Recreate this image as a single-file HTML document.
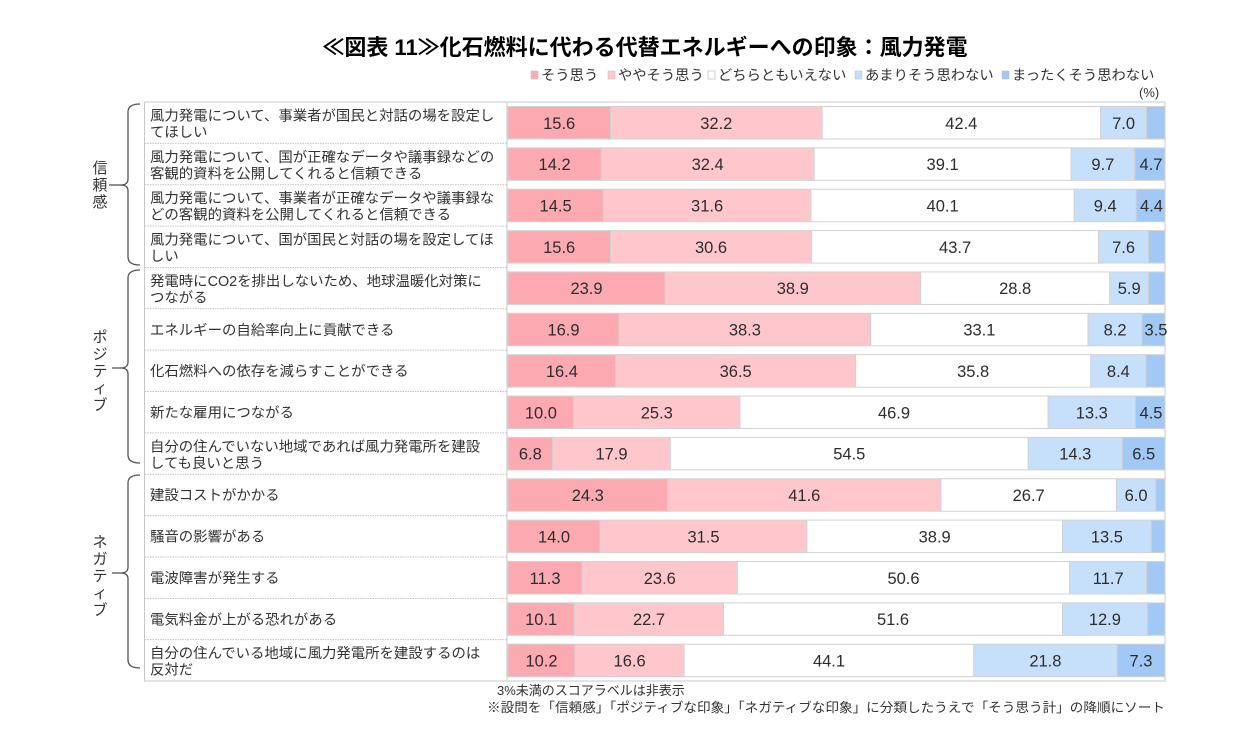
<!DOCTYPE html>
<html><head><meta charset="utf-8">
<style>
html,body{margin:0;padding:0;background:#fff;}
svg{display:block;}
text{font-family:"Liberation Sans","Noto Sans CJK JP",sans-serif;}
</style></head>
<body>
<svg width="1257" height="741" viewBox="0 0 1257 741" xmlns="http://www.w3.org/2000/svg">
<!-- Title -->
<text x="645" y="55" text-anchor="middle" font-size="22" font-weight="bold" fill="#000">≪図表 11≫化石燃料に代わる代替エネルギーへの印象：風力発電</text>

<!-- Legend -->
<g font-size="14.3" fill="#333">
<rect x="531" y="71" width="7" height="8" fill="#fca9b1" stroke="#bbb" stroke-width="0.5"/>
<text x="541" y="80">そう思う</text>
<rect x="608" y="71" width="7" height="8" fill="#ffc7cc" stroke="#bbb" stroke-width="0.5"/>
<text x="618" y="80">ややそう思う</text>
<rect x="708" y="71" width="7" height="8" fill="#fff" stroke="#bbb" stroke-width="0.7"/>
<text x="718" y="80">どちらともいえない</text>
<rect x="855" y="71" width="7" height="8" fill="#c6e0fc" stroke="#bbb" stroke-width="0.5"/>
<text x="865" y="80">あまりそう思わない</text>
<rect x="1002" y="71" width="7" height="8" fill="#a2c8f6" stroke="#bbb" stroke-width="0.5"/>
<text x="1012" y="80">まったくそう思わない</text>
</g>
<text x="1139" y="97" font-size="13" fill="#333">(%)</text>

<!-- Frame -->
<rect x="144.5" y="102" width="1020.5" height="579" fill="none" stroke="#c8c8c8" stroke-width="1"/>
<line x1="507" y1="102" x2="507" y2="681" stroke="#c8c8c8" stroke-width="1"/>
<g stroke="#c4c4c4" stroke-width="1" stroke-dasharray="1.5,1">
<line x1="145" y1="143.36" x2="507" y2="143.36"/>
<line x1="145" y1="184.72" x2="507" y2="184.72"/>
<line x1="145" y1="226.08" x2="507" y2="226.08"/>
<line x1="145" y1="267.44" x2="507" y2="267.44"/>
<line x1="145" y1="308.8" x2="507" y2="308.8"/>
<line x1="145" y1="350.16" x2="507" y2="350.16"/>
<line x1="145" y1="391.52" x2="507" y2="391.52"/>
<line x1="145" y1="432.88" x2="507" y2="432.88"/>
<line x1="145" y1="474.24" x2="507" y2="474.24"/>
<line x1="145" y1="515.6" x2="507" y2="515.6"/>
<line x1="145" y1="556.96" x2="507" y2="556.96"/>
<line x1="145" y1="598.32" x2="507" y2="598.32"/>
<line x1="145" y1="639.68" x2="507" y2="639.68"/>
</g>

<!-- Group labels -->
<g font-size="15" fill="#333" text-anchor="middle">
<text x="100" y="173">信</text>
<text x="100" y="190">頼</text>
<text x="100" y="207">感</text>
<text x="100" y="342">ポ</text>
<text x="100" y="359">ジ</text>
<text x="100" y="376">テ</text>
<text x="100" y="393">ィ</text>
<text x="100" y="410">ブ</text>
<text x="100" y="547">ネ</text>
<text x="100" y="564">ガ</text>
<text x="100" y="581">テ</text>
<text x="100" y="598">ィ</text>
<text x="100" y="615">ブ</text>
</g>
<!-- Braces -->
<g fill="none" stroke="#555" stroke-width="1.3">
<path d="M140,104 Q128,104 128,112 L128,179 Q128,185 121,185 Q128,185 128,191 L128,257 Q128,265 140,265"/>
<line x1="109" y1="185" x2="121" y2="185"/>
<path d="M140,270 Q128,270 128,278 L128,362 Q128,368 121,368 Q128,368 128,374 L128,455 Q128,463 140,463"/>
<line x1="112" y1="368" x2="121" y2="368"/>
<path d="M140,475 Q128,475 128,483 L128,567 Q128,573 121,573 Q128,573 128,579 L128,660 Q128,668 140,668"/>
<line x1="112" y1="573" x2="121" y2="573"/>
</g>

<!-- Row labels -->
<g font-size="14.4" fill="#333">
<text x="150" y="120.5">風力発電について、事業者が国民と対話の場を設定し</text>
<text x="150" y="137">てほしい</text>
<text x="150" y="161.9">風力発電について、国が正確なデータや議事録などの</text>
<text x="150" y="178.4">客観的資料を公開してくれると信頼できる</text>
<text x="150" y="203.2">風力発電について、事業者が正確なデータや議事録な</text>
<text x="150" y="219.7">どの客観的資料を公開してくれると信頼できる</text>
<text x="150" y="244.6">風力発電について、国が国民と対話の場を設定してほ</text>
<text x="150" y="261.1">しい</text>
<text x="150" y="285.9">発電時にCO2を排出しないため、地球温暖化対策に</text>
<text x="150" y="302.4">つながる</text>
<text x="150" y="334.8">エネルギーの自給率向上に貢献できる</text>
<text x="150" y="376.2">化石燃料への依存を減らすことができる</text>
<text x="150" y="417.5">新たな雇用につながる</text>
<text x="150" y="451.4">自分の住んでいない地域であれば風力発電所を建設</text>
<text x="150" y="467.9">しても良いと思う</text>
<text x="150" y="500.2">建設コストがかかる</text>
<text x="150" y="541.6">騒音の影響がある</text>
<text x="150" y="583">電波障害が発生する</text>
<text x="150" y="624.3">電気料金が上がる恐れがある</text>
<text x="150" y="658.2">自分の住んでいる地域に風力発電所を建設するのは</text>
<text x="150" y="674.7">反対だ</text>
</g>

<!-- Bars -->
<g stroke="#d2d2d2" stroke-width="1">
<g transform="translate(0,102)">
<rect x="508" y="4.5" width="102.5" height="32.5" fill="#fca9b1"/>
<rect x="610.5" y="4.5" width="211.6" height="32.5" fill="#ffc7cc"/>
<rect x="822.1" y="4.5" width="278.5" height="32.5" fill="#fff"/>
<rect x="1100.6" y="4.5" width="46" height="32.5" fill="#c6e0fc"/>
<rect x="1146.6" y="4.5" width="18.4" height="32.5" fill="#a2c8f6"/>
</g>
<g transform="translate(0,143.36)">
<rect x="508" y="4.5" width="93.3" height="32.5" fill="#fca9b1"/>
<rect x="601.3" y="4.5" width="212.9" height="32.5" fill="#ffc7cc"/>
<rect x="814.2" y="4.5" width="256.8" height="32.5" fill="#fff"/>
<rect x="1071" y="4.5" width="63.8" height="32.5" fill="#c6e0fc"/>
<rect x="1134.8" y="4.5" width="30.2" height="32.5" fill="#a2c8f6"/>
</g>
<g transform="translate(0,184.72)">
<rect x="508" y="4.5" width="95.3" height="32.5" fill="#fca9b1"/>
<rect x="603.3" y="4.5" width="207.6" height="32.5" fill="#ffc7cc"/>
<rect x="810.9" y="4.5" width="263.4" height="32.5" fill="#fff"/>
<rect x="1074.3" y="4.5" width="61.8" height="32.5" fill="#c6e0fc"/>
<rect x="1136.1" y="4.5" width="28.9" height="32.5" fill="#a2c8f6"/>
</g>
<g transform="translate(0,226.08)">
<rect x="508" y="4.5" width="102.5" height="32.5" fill="#fca9b1"/>
<rect x="610.5" y="4.5" width="201" height="32.5" fill="#ffc7cc"/>
<rect x="811.5" y="4.5" width="287.1" height="32.5" fill="#fff"/>
<rect x="1098.6" y="4.5" width="50" height="32.5" fill="#c6e0fc"/>
<rect x="1148.6" y="4.5" width="16.4" height="32.5" fill="#a2c8f6"/>
</g>
<g transform="translate(0,267.44)">
<rect x="508" y="4.5" width="157" height="32.5" fill="#fca9b1"/>
<rect x="665" y="4.5" width="255.6" height="32.5" fill="#ffc7cc"/>
<rect x="920.6" y="4.5" width="189.2" height="32.5" fill="#fff"/>
<rect x="1109.8" y="4.5" width="38.8" height="32.5" fill="#c6e0fc"/>
<rect x="1148.6" y="4.5" width="16.4" height="32.5" fill="#a2c8f6"/>
</g>
<g transform="translate(0,308.8)">
<rect x="508" y="4.5" width="111" height="32.5" fill="#fca9b1"/>
<rect x="619" y="4.5" width="251.7" height="32.5" fill="#ffc7cc"/>
<rect x="870.7" y="4.5" width="217.4" height="32.5" fill="#fff"/>
<rect x="1088.1" y="4.5" width="53.9" height="32.5" fill="#c6e0fc"/>
<rect x="1142" y="4.5" width="23" height="32.5" fill="#a2c8f6"/>
</g>
<g transform="translate(0,350.16)">
<rect x="508" y="4.5" width="107.7" height="32.5" fill="#fca9b1"/>
<rect x="615.7" y="4.5" width="239.9" height="32.5" fill="#ffc7cc"/>
<rect x="855.6" y="4.5" width="235.2" height="32.5" fill="#fff"/>
<rect x="1090.8" y="4.5" width="55.2" height="32.5" fill="#c6e0fc"/>
<rect x="1146" y="4.5" width="19" height="32.5" fill="#a2c8f6"/>
</g>
<g transform="translate(0,391.52)">
<rect x="508" y="4.5" width="65.7" height="32.5" fill="#fca9b1"/>
<rect x="573.7" y="4.5" width="166.2" height="32.5" fill="#ffc7cc"/>
<rect x="739.9" y="4.5" width="308.2" height="32.5" fill="#fff"/>
<rect x="1048.1" y="4.5" width="87.3" height="32.5" fill="#c6e0fc"/>
<rect x="1135.4" y="4.5" width="29.6" height="32.5" fill="#a2c8f6"/>
</g>
<g transform="translate(0,432.88)">
<rect x="508" y="4.5" width="44.7" height="32.5" fill="#fca9b1"/>
<rect x="552.7" y="4.5" width="117.6" height="32.5" fill="#ffc7cc"/>
<rect x="670.3" y="4.5" width="358" height="32.5" fill="#fff"/>
<rect x="1028.3" y="4.5" width="94" height="32.5" fill="#c6e0fc"/>
<rect x="1122.3" y="4.5" width="42.7" height="32.5" fill="#a2c8f6"/>
</g>
<g transform="translate(0,474.24)">
<rect x="508" y="4.5" width="159.7" height="32.5" fill="#fca9b1"/>
<rect x="667.7" y="4.5" width="273.3" height="32.5" fill="#ffc7cc"/>
<rect x="941" y="4.5" width="175.4" height="32.5" fill="#fff"/>
<rect x="1116.4" y="4.5" width="39.4" height="32.5" fill="#c6e0fc"/>
<rect x="1155.8" y="4.5" width="9.2" height="32.5" fill="#a2c8f6"/>
</g>
<g transform="translate(0,515.6)">
<rect x="508" y="4.5" width="92" height="32.5" fill="#fca9b1"/>
<rect x="600" y="4.5" width="206.9" height="32.5" fill="#ffc7cc"/>
<rect x="806.9" y="4.5" width="255.6" height="32.5" fill="#fff"/>
<rect x="1062.5" y="4.5" width="88.7" height="32.5" fill="#c6e0fc"/>
<rect x="1151.2" y="4.5" width="13.8" height="32.5" fill="#a2c8f6"/>
</g>
<g transform="translate(0,556.96)">
<rect x="508" y="4.5" width="74.2" height="32.5" fill="#fca9b1"/>
<rect x="582.2" y="4.5" width="155.1" height="32.5" fill="#ffc7cc"/>
<rect x="737.3" y="4.5" width="332.4" height="32.5" fill="#fff"/>
<rect x="1069.7" y="4.5" width="76.9" height="32.5" fill="#c6e0fc"/>
<rect x="1146.6" y="4.5" width="18.4" height="32.5" fill="#a2c8f6"/>
</g>
<g transform="translate(0,598.32)">
<rect x="508" y="4.5" width="66.4" height="32.5" fill="#fca9b1"/>
<rect x="574.4" y="4.5" width="149.1" height="32.5" fill="#ffc7cc"/>
<rect x="723.5" y="4.5" width="339" height="32.5" fill="#fff"/>
<rect x="1062.5" y="4.5" width="84.8" height="32.5" fill="#c6e0fc"/>
<rect x="1147.3" y="4.5" width="17.7" height="32.5" fill="#a2c8f6"/>
</g>
<g transform="translate(0,639.68)">
<rect x="508" y="4.5" width="67" height="32.5" fill="#fca9b1"/>
<rect x="575" y="4.5" width="109.1" height="32.5" fill="#ffc7cc"/>
<rect x="684.1" y="4.5" width="289.7" height="32.5" fill="#fff"/>
<rect x="973.8" y="4.5" width="143.2" height="32.5" fill="#c6e0fc"/>
<rect x="1117" y="4.5" width="48" height="32.5" fill="#a2c8f6"/>
</g>
</g>

<!-- Bar value labels -->
<g font-size="16.5" fill="#2d2d2d" text-anchor="middle">
<g transform="translate(0,102)">
<text x="559.2" y="26.8">15.6</text><text x="716.3" y="26.8">32.2</text><text x="961.3" y="26.8">42.4</text><text x="1123.6" y="26.8">7.0</text>
</g>
<g transform="translate(0,143.36)">
<text x="554.6" y="26.8">14.2</text><text x="707.7" y="26.8">32.4</text><text x="942.6" y="26.8">39.1</text><text x="1102.9" y="26.8">9.7</text><text x="1151" y="26.8">4.7</text>
</g>
<g transform="translate(0,184.72)">
<text x="555.6" y="26.8">14.5</text><text x="707.1" y="26.8">31.6</text><text x="942.6" y="26.8">40.1</text><text x="1105.2" y="26.8">9.4</text><text x="1151.5" y="26.8">4.4</text>
</g>
<g transform="translate(0,226.08)">
<text x="559.2" y="26.8">15.6</text><text x="711" y="26.8">30.6</text><text x="955.1" y="26.8">43.7</text><text x="1123.6" y="26.8">7.6</text>
</g>
<g transform="translate(0,267.44)">
<text x="586.5" y="26.8">23.9</text><text x="792.8" y="26.8">38.9</text><text x="1015.2" y="26.8">28.8</text><text x="1129.2" y="26.8">5.9</text>
</g>
<g transform="translate(0,308.8)">
<text x="563.5" y="26.8">16.9</text><text x="744.9" y="26.8">38.3</text><text x="979.4" y="26.8">33.1</text><text x="1115.1" y="26.8">8.2</text><text x="1156" y="26.8">3.5</text>
</g>
<g transform="translate(0,350.16)">
<text x="561.9" y="26.8">16.4</text><text x="735.7" y="26.8">36.5</text><text x="973.2" y="26.8">35.8</text><text x="1118.4" y="26.8">8.4</text>
</g>
<g transform="translate(0,391.52)">
<text x="540.9" y="26.8">10.0</text><text x="656.8" y="26.8">25.3</text><text x="894" y="26.8">46.9</text><text x="1091.8" y="26.8">13.3</text><text x="1151" y="26.8">4.5</text>
</g>
<g transform="translate(0,432.88)">
<text x="530.3" y="26.8">6.8</text><text x="611.5" y="26.8">17.9</text><text x="849.3" y="26.8">54.5</text><text x="1075.3" y="26.8">14.3</text><text x="1143.7" y="26.8">6.5</text>
</g>
<g transform="translate(0,474.24)">
<text x="587.8" y="26.8">24.3</text><text x="804.3" y="26.8">41.6</text><text x="1028.7" y="26.8">26.7</text><text x="1136.1" y="26.8">6.0</text>
</g>
<g transform="translate(0,515.6)">
<text x="554" y="26.8">14.0</text><text x="703.5" y="26.8">31.5</text><text x="934.7" y="26.8">38.9</text><text x="1106.9" y="26.8">13.5</text>
</g>
<g transform="translate(0,556.96)">
<text x="545.1" y="26.8">11.3</text><text x="659.8" y="26.8">23.6</text><text x="903.5" y="26.8">50.6</text><text x="1108.2" y="26.8">11.7</text>
</g>
<g transform="translate(0,598.32)">
<text x="541.2" y="26.8">10.1</text><text x="649" y="26.8">22.7</text><text x="893" y="26.8">51.6</text><text x="1104.9" y="26.8">12.9</text>
</g>
<g transform="translate(0,639.68)">
<text x="541.5" y="26.8">10.2</text><text x="629.6" y="26.8">16.6</text><text x="829" y="26.8">44.1</text><text x="1045.4" y="26.8">21.8</text><text x="1141" y="26.8">7.3</text>
</g>
</g>

<!-- Notes -->
<text x="497" y="695" font-size="13" fill="#333">3%未満のスコアラベルは非表示</text>
<text x="487" y="712" font-size="13" fill="#333" textLength="678" lengthAdjust="spacingAndGlyphs">※設問を「信頼感」「ポジティブな印象」「ネガティブな印象」に分類したうえで「そう思う計」の降順にソート</text>
</svg>
</body></html>
